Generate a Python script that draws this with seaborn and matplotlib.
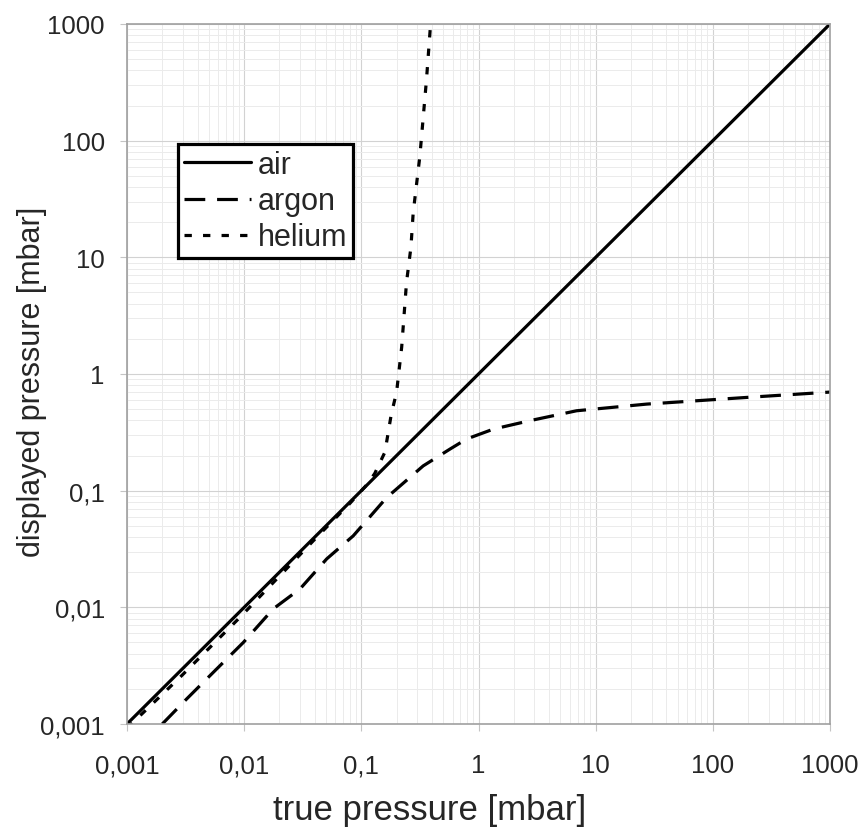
import matplotlib
matplotlib.use('Agg')
import matplotlib.pyplot as plt
import matplotlib.ticker as mticker
import numpy as np
import pandas as pd
import seaborn as sns

# ==================== data ====================
air_true = [0.001, 1000]
air_disp = [0.001, 1000]

argon_true = [0.002, 0.00323, 0.00582, 0.00984, 0.0177, 0.03, 0.0506, 0.0853,
              0.164, 0.337, 0.57, 0.79, 1.34, 2.74, 6.87, 27.2, 195, 1000]
argon_disp = [0.001, 0.00164, 0.00296, 0.005, 0.0097, 0.0144, 0.026, 0.041,
              0.087, 0.163, 0.227, 0.277, 0.337, 0.398, 0.484, 0.552, 0.63, 0.70]

helium_true = [0.001, 0.00283, 0.0092, 0.0202, 0.0415, 0.08, 0.111, 0.13,
               0.159, 0.18, 0.2, 0.221, 0.243, 0.265, 0.277, 0.316, 0.36, 0.39]
helium_disp = [0.00092, 0.00251, 0.0082, 0.0187, 0.0398, 0.078, 0.112, 0.14,
               0.214, 0.45, 0.70, 1.7, 6.1, 12.2, 24, 74, 336, 1000]

tick_vals = [0.001, 0.01, 0.1, 1, 10, 100, 1000]
tick_labels = ['0,001', '0,01', '0,1', '1', '10', '100', '1000']

# ==================== style ====================
sns.set_style('white')
plt.rcParams['font.family'] = ['Liberation Sans', 'DejaVu Sans']

fig = plt.figure(figsize=(8.6, 8.29), dpi=100)
ax = fig.add_axes([127 / 860, 1 - 725 / 829, 703 / 860, 700 / 829])

lw = 2.3
sns.lineplot(x=air_true, y=air_disp, ax=ax, color='black', lw=lw,
             label='air', sort=False)
sns.lineplot(x=argon_true, y=argon_disp, ax=ax, color='black', lw=lw,
             label='argon', sort=False)
sns.lineplot(x=helium_true, y=helium_disp, ax=ax, color='black', lw=lw,
             label='helium', sort=False)
ax.lines[1].set_dashes([6.5, 3.7])
ax.lines[2].set_dashes([2.3, 3.5])

ax.set_xscale('log')
ax.set_yscale('log')
ax.set_xlim(0.001, 1000)
ax.set_ylim(0.001, 1000)

ax.xaxis.set_major_locator(mticker.FixedLocator(tick_vals))
ax.yaxis.set_major_locator(mticker.FixedLocator(tick_vals))
ax.xaxis.set_major_formatter(mticker.FixedFormatter(tick_labels))
ax.yaxis.set_major_formatter(mticker.FixedFormatter(tick_labels))
ax.xaxis.set_minor_locator(mticker.LogLocator(base=10, subs=np.arange(2, 10)))
ax.yaxis.set_minor_locator(mticker.LogLocator(base=10, subs=np.arange(2, 10)))
ax.xaxis.set_minor_formatter(mticker.NullFormatter())
ax.yaxis.set_minor_formatter(mticker.NullFormatter())

ax.grid(which='major', color='#d2d2d2', lw=0.8)
ax.grid(which='minor', color='#ebebeb', lw=0.7)
ax.set_axisbelow(True)

ax.tick_params(which='major', direction='out', length=5, width=0.8,
               color='#c4c4c4', labelsize=18.5, bottom=True, left=True)
ax.tick_params(axis='x', pad=16)
ax.tick_params(axis='y', pad=11)
ax.tick_params(which='minor', length=0)
for s in ax.spines.values():
    s.set_color('#a0a0a0')
    s.set_linewidth(1.2)

ax.set_xlabel('true pressure [mbar]', fontsize=25)
ax.set_ylabel('displayed pressure [mbar]', fontsize=22)
ax.xaxis.set_label_coords(0.431, -0.098)
ax.yaxis.set_label_coords(-0.114, 0.49)

leg = ax.legend(loc='upper left', bbox_to_anchor=(51 / 703, 1 - 120 / 700),
                frameon=True, fancybox=False, fontsize=22, handlelength=2.2,
                handletextpad=0.2, borderpad=0.2, labelspacing=0.2,
                borderaxespad=0)
leg.get_frame().set_edgecolor('black')
leg.get_frame().set_linewidth(2.3)
leg.get_frame().set_alpha(1)

plt.savefig('out.png', dpi=100)
